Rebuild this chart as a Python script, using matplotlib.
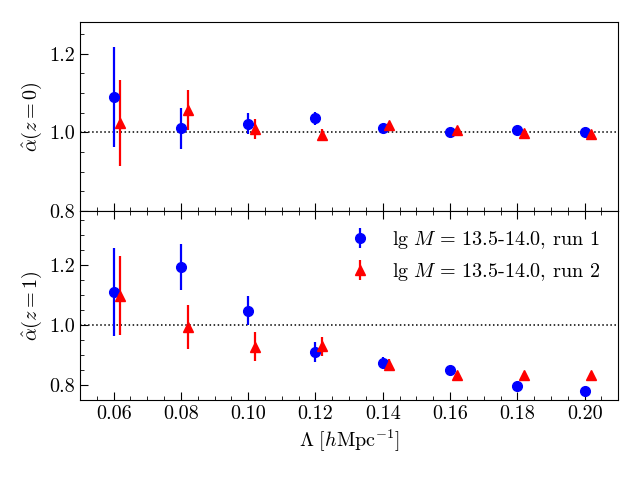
import numpy as np
import matplotlib.pyplot as plt
from matplotlib.ticker import MultipleLocator

plt.rcParams['font.family'] = 'serif'
plt.rcParams['font.serif'] = ['cmr10']
plt.rcParams['mathtext.fontset'] = 'cm'
plt.rcParams['axes.formatter.use_mathtext'] = True
plt.rcParams['font.size'] = 14.5

lam = np.array([0.06, 0.08, 0.10, 0.12, 0.14, 0.16, 0.18, 0.20])
shift = 0.002  # run 2 drawn slightly to the right

# z = 0
a0_run1 = [1.090, 1.010, 1.022, 1.035, 1.011, 1.001, 1.007, 1.001]
e0_run1 = [0.127, 0.052, 0.027, 0.017, 0.007, 0.005, 0.005, 0.005]
a0_run2 = [1.023, 1.057, 1.008, 0.993, 1.018, 1.006, 0.999, 0.996]
e0_run2 = [0.110, 0.050, 0.026, 0.016, 0.006, 0.005, 0.004, 0.004]

# z = 1
a1_run1 = [1.110, 1.192, 1.047, 0.909, 0.873, 0.848, 0.795, 0.778]
e1_run1 = [0.146, 0.077, 0.049, 0.033, 0.020, 0.010, 0.008, 0.008]
a1_run2 = [1.098, 0.994, 0.927, 0.928, 0.867, 0.834, 0.832, 0.832]
e1_run2 = [0.132, 0.073, 0.048, 0.031, 0.020, 0.008, 0.006, 0.006]

label1 = r'$\lg\,M\,=\,13.5$-$14.0$, run 1'
label2 = r'$\lg\,M\,=\,13.5$-$14.0$, run 2'

fig, (ax0, ax1) = plt.subplots(2, 1, sharex=True, figsize=(6.4, 4.8), dpi=100)
fig.subplots_adjust(left=0.125, right=0.966, top=0.954, bottom=0.167, hspace=0)

for ax, y1, e1, y2, e2 in [(ax0, a0_run1, e0_run1, a0_run2, e0_run2),
                           (ax1, a1_run1, e1_run1, a1_run2, e1_run2)]:
    ax.axhline(1.0, color='k', ls=':', lw=1.1, zorder=1)
    ax.errorbar(lam, y1, yerr=e1, fmt='o', color='b', ms=7, elinewidth=1.6,
                capsize=0, label=label1, zorder=3)
    ax.errorbar(lam + shift, y2, yerr=e2, fmt='^', color='r', ms=7, elinewidth=1.6,
                capsize=0, label=label2, zorder=3)
    ax.yaxis.set_major_locator(MultipleLocator(0.2))
    ax.yaxis.set_minor_locator(MultipleLocator(0.05))
    ax.xaxis.set_major_locator(MultipleLocator(0.02))
    ax.xaxis.set_minor_locator(MultipleLocator(0.005))
    ax.tick_params(which='both', direction='in')
    ax.tick_params(which='major', length=6)
    ax.tick_params(which='minor', length=3)

ax1.tick_params(axis='x', which='both', top=True)

ax0.set_xlim(0.05, 0.21)
ax0.set_ylim(0.8, 1.28)
ax1.set_ylim(0.75, 1.38)
ax1.set_yticks([0.8, 1.0, 1.2])
ax1.yaxis.set_major_formatter(plt.FormatStrFormatter('%.1f'))
ax0.yaxis.set_major_formatter(plt.FormatStrFormatter('%.1f'))
ax1.xaxis.set_major_formatter(plt.FormatStrFormatter('%.2f'))

ax0.set_ylabel(r'$\hat{\alpha}(z=0)$')
ax1.set_ylabel(r'$\hat{\alpha}(z=1)$')
ax1.set_xlabel(r'$\Lambda\ [h\mathrm{Mpc}^{-1}]$')

ax1.legend(loc='upper right', frameon=False, handletextpad=0.6)

fig.savefig('out.png')
